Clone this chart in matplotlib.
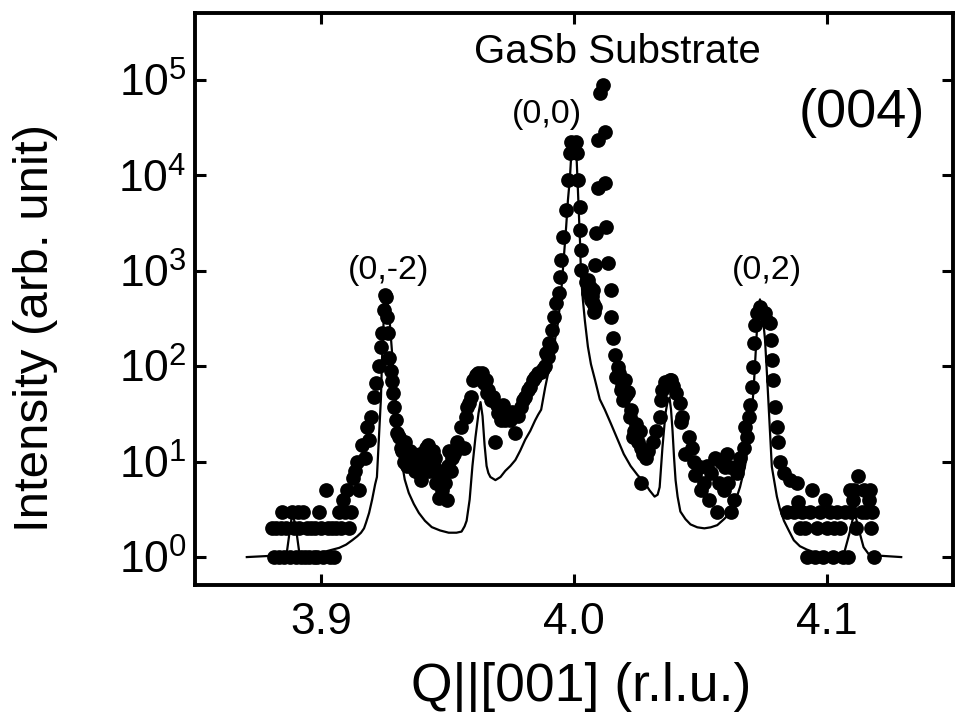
import matplotlib
matplotlib.use("Agg")
import matplotlib.pyplot as plt
from matplotlib.ticker import FixedLocator, NullLocator, LogLocator

plt.rcParams['font.family'] = ['Liberation Sans', 'DejaVu Sans']
plt.rcParams['mathtext.fontset'] = 'custom'
plt.rcParams['mathtext.rm'] = 'Liberation Sans'

# measured intensity (dots)
Q_meas = [3.8803, 3.8811, 3.8819, 3.8831, 3.8839, 3.8846, 3.8854, 3.8862, 3.8874, 3.8882,
          3.8890, 3.8898, 3.8906, 3.8913, 3.8921, 3.8929, 3.8937, 3.8945, 3.8953, 3.8961,
          3.8969, 3.8976, 3.8984, 3.8992, 3.9000, 3.9008, 3.9020, 3.9028, 3.9035, 3.9043,
          3.9051, 3.9059, 3.9071, 3.9079, 3.9087, 3.9094, 3.9102, 3.9110, 3.9118, 3.9126,
          3.9134, 3.9142, 3.9150, 3.9161, 3.9173, 3.9181, 3.9189, 3.9197, 3.9209, 3.9217,
          3.9228, 3.9236, 3.9240, 3.9248, 3.9252, 3.9256, 3.9260, 3.9264, 3.9268, 3.9276,
          3.9280, 3.9283, 3.9287, 3.9295, 3.9299, 3.9307, 3.9315, 3.9319, 3.9327, 3.9331,
          3.9335, 3.9346, 3.9350, 3.9358, 3.9370, 3.9378, 3.9386, 3.9390, 3.9394, 3.9406,
          3.9413, 3.9421, 3.9425, 3.9437, 3.9441, 3.9445, 3.9453, 3.9465, 3.9476, 3.9484,
          3.9496, 3.9504, 3.9512, 3.9524, 3.9535, 3.9551, 3.9563, 3.9571, 3.9575, 3.9583,
          3.9591, 3.9602, 3.9614, 3.9622, 3.9634, 3.9642, 3.9650, 3.9654, 3.9661, 3.9673,
          3.9681, 3.9689, 3.9697, 3.9701, 3.9713, 3.9720, 3.9728, 3.9740, 3.9748, 3.9756,
          3.9768, 3.9780, 3.9791, 3.9799, 3.9807, 3.9819, 3.9827, 3.9839, 3.9846, 3.9858,
          3.9870, 3.9878, 3.9886, 3.9890, 3.9898, 3.9902, 3.9909, 3.9913, 3.9921, 3.9929,
          3.9941, 3.9945, 3.9949, 3.9957, 3.9969, 3.9976, 3.9984, 3.9988,
          4.0008, 4.0012, 4.0016, 4.0024, 4.0024, 4.0028, 4.0028, 4.0047, 4.0055, 4.0055,
          4.0067, 4.0075, 4.0075, 4.0083, 4.0083, 4.0087, 4.0094, 4.0094, 4.0102, 4.0114,
          4.0122, 4.0122, 4.0126, 4.0134, 4.0146, 4.0146, 4.0154, 4.0161, 4.0165, 4.0173,
          4.0185, 4.0193, 4.0201, 4.0213, 4.0220, 4.0224, 4.0232, 4.0244, 4.0260, 4.0264,
          4.0264, 4.0283, 4.0291, 4.0311, 4.0323, 4.0339, 4.0343, 4.0350, 4.0362, 4.0378,
          4.0382, 4.0390, 4.0402, 4.0421, 4.0429, 4.0425, 4.0441, 4.0457, 4.0476, 4.0480,
          4.0500, 4.0504, 4.0535, 4.0541, 4.0559, 4.0567, 4.0594, 4.0598, 4.0606, 4.0618,
          4.0622, 4.0634, 4.0646, 4.0657, 4.0673, 4.0677, 4.0685, 4.0693, 4.0697, 4.0705,
          4.0709, 4.0713, 4.0717, 4.0724, 4.0736, 4.0740, 4.0756, 4.0764, 4.0776, 4.0779,
          4.0783, 4.0787, 4.0795, 4.0803, 4.0807, 4.0815, 4.0831, 4.0843, 4.0854, 4.0870,
          4.0882, 4.0886, 4.0894, 4.0902, 4.0913, 4.0921, 4.0933, 4.0941, 4.0953, 4.0961,
          4.0972, 4.0984, 4.0992, 4.1000, 4.1012, 4.1024, 4.1031, 4.1039, 4.1051, 4.1063,
          4.1071, 4.1083, 4.1091, 4.1098, 4.1106, 4.1110, 4.1118, 4.1126, 4.1138, 4.1146,
          4.1157, 4.1169, 4.1173, 4.1177, 4.1181, 4.1189,
          3.9339, 3.9362, 3.9398, 3.9417, 3.9429, 3.9449, 3.9461, 3.9488, 3.9500, 3.9516,
          3.9543, 4.0177, 4.0189, 4.0205, 4.0236, 4.0252, 4.0272, 4.0468, 4.0516, 4.0528,
          4.0575, 4.0583, 4.0610, 4.0650, 4.0063, 4.0071, 4.0079]
I_meas = [2, 1, 2, 1, 2, 3, 1, 2, 1, 3,
          2, 1, 3, 2, 1, 3, 1, 2, 1, 2,
          1, 2, 1, 3, 2, 1, 5, 2, 1, 2,
          1, 2, 3, 2, 4, 3, 5, 2, 3, 6.7,
          8, 10, 5, 15, 11, 23, 17, 29, 47, 66,
          100, 160, 222, 390, 560, 530, 330, 220, 122, 90,
          70, 52, 37, 27, 20, 18, 14, 13, 10, 16,
          12, 11, 13, 9, 8, 10, 7.6, 12, 6.4, 9,
          14, 15, 8, 11, 13, 9, 6, 4.2, 5, 8,
          4, 13, 8, 12, 16, 23, 14, 29, 37, 41,
          47, 72, 80, 85, 85, 66, 72, 52, 56, 44,
          47, 16, 39, 32, 27, 39, 27, 30, 27, 33,
          20, 30, 37, 44, 47, 56, 60, 72, 77, 85,
          87, 93, 100, 137, 125, 175, 160, 240, 330, 460,
          585, 860, 1290, 2250, 4370, 8900, 17000, 22400,
          22400, 17000, 8900, 4700, 2700, 1650, 1014, 760, 585, 808,
          492, 458, 630, 417, 1150, 2490, 7350, 23500, 73000, 88000,
          28500, 8300, 2880, 1200, 630, 328, 197, 131, 77, 98,
          56, 44, 72, 54, 29, 35, 18, 25, 21, 14,
          6, 11, 13, 16, 21, 29, 44, 56, 68, 72,
          72, 62, 52, 41, 29, 26, 12, 18, 10, 7.2,
          8.8, 5, 4, 7.6, 11, 3, 5, 8.8, 12, 8.8,
          3, 4, 7.6, 11, 14, 23, 18, 29, 39, 60,
          98, 175, 270, 361, 420, 370, 360, 300, 280, 190,
          115, 72, 37, 23, 16, 10, 7.6, 3, 6.4, 3,
          6, 3.8, 2, 3, 2, 1, 3, 5, 1, 2,
          3, 1, 4, 2, 3, 1, 2, 3, 2, 1,
          3, 1, 5, 3, 4, 5, 2, 7, 3, 5,
          3, 4, 5, 2, 3, 1,
          9, 12, 11, 10, 13, 11, 8, 6, 9, 11,
          14, 85, 62, 50, 21, 16, 12, 14, 6, 9,
          6, 10, 6, 9, 680, 540, 370]

# simulated curve (solid line)
Q_fit = [3.8705, 3.8862, 3.8874, 3.8886, 3.8902, 3.8913, 3.8992, 3.9071, 3.9098, 3.9122,
         3.9142, 3.9157, 3.9169, 3.9177, 3.9189, 3.9201, 3.9213, 3.9220, 3.9228, 3.9236,
         3.9240, 3.9248, 3.9252, 3.9256, 3.9260, 3.9268, 3.9280, 3.9295, 3.9307, 3.9319,
         3.9330, 3.9346, 3.9366, 3.9386, 3.9410, 3.9437, 3.9470, 3.9504, 3.9535, 3.9555,
         3.9567, 3.9575, 3.9587, 3.9598, 3.9610, 3.9622, 3.9630, 3.9638, 3.9646, 3.9654,
         3.9661, 3.9669, 3.9689, 3.9709, 3.9728, 3.9748, 3.9768, 3.9787, 3.9807, 3.9827,
         3.9846, 3.9858, 3.9870, 3.9886, 3.9898, 3.9906, 3.9917, 3.9925, 3.9937, 3.9949,
         3.9957, 3.9969, 3.9976, 3.9984, 3.9990, 3.9996, 4.0002, 4.0008, 4.0012, 4.0016,
         4.0020, 4.0024, 4.0028, 4.0035, 4.0043, 4.0055, 4.0067, 4.0083, 4.0102, 4.0122,
         4.0146, 4.0173, 4.0197, 4.0224, 4.0252, 4.0280, 4.0299, 4.0319, 4.0331, 4.0339,
         4.0350, 4.0362, 4.0370, 4.0378, 4.0384, 4.0390, 4.0396, 4.0402, 4.0410, 4.0421,
         4.0441, 4.0461, 4.0488, 4.0516, 4.0541, 4.0567, 4.0594, 4.0618, 4.0638, 4.0657,
         4.0677, 4.0693, 4.0705, 4.0713, 4.0724, 4.0730, 4.0736, 4.0744, 4.0756, 4.0764,
         4.0772, 4.0783, 4.0803, 4.0815, 4.0831, 4.0850, 4.0870, 4.0894, 4.0921, 4.0960,
         4.1012, 4.1050, 4.1071, 4.1091, 4.1110, 4.1126, 4.1146, 4.1169, 4.1295]
I_fit = [1.0, 1.05, 1.8, 3.0, 1.8, 1.1, 1.1, 1.25, 1.35, 1.5,
         1.65, 1.8, 2.0, 2.3, 2.9, 4.0, 5.8, 6.9, 18, 47,
         116, 361, 520, 585, 520, 361, 137, 41, 18, 9.7,
         6.5, 4.7, 3.6, 2.9, 2.4, 2.06, 1.9, 1.8, 1.8, 1.85,
         2.1, 2.4, 4, 9, 18, 32, 42, 30, 15, 9,
         7.6, 6.9, 6.4, 6.9, 8, 9, 10.4, 13, 17, 21,
         27, 31, 35, 60, 85, 108, 150, 190, 290, 580,
         1100, 2900, 5500, 9500, 18000, 25000, 25000, 21000, 12000, 6500,
         3500, 1950, 860, 500, 300, 160, 105, 72, 45, 35,
         25, 17, 12, 9, 7.2, 6, 5, 4.3, 4.5, 5.4,
         14, 32, 42, 47, 35, 21, 11, 6.4, 4.3, 3,
         2.5, 2.2, 2.05, 2, 2.05, 2.16, 2.5, 2.9, 3.8, 5.4,
         9, 17, 35, 72, 240, 380, 500, 400, 190, 80,
         32, 8.8, 4.3, 3.2, 2.4, 1.9, 1.5, 1.3, 1.2, 1.1,
         1.05, 1.05, 1.15, 1.8, 3.0, 2.0, 1.27, 1.05, 1.0]

x_ticks = [3.9, 4.0, 4.1]
x_ticklabels = ['3.9', '4.0', '4.1']

fig = plt.figure(figsize=(9.55, 7.24), dpi=100)
ax = fig.add_axes([0.2042, 0.192, 0.7937, 0.790])

ax.plot(Q_meas, I_meas, 'o', color='black', ms=10.6, mew=0)
ax.plot(Q_fit, I_fit, '-', color='black', lw=1.6)

ax.set_yscale('log')
ax.set_xlim(3.85, 4.15)
ax.set_ylim(0.51, 5e5)

ax.xaxis.set_major_locator(FixedLocator(x_ticks))
ax.set_xticklabels(x_ticklabels)
ax.xaxis.set_minor_locator(NullLocator())
ax.yaxis.set_major_locator(LogLocator(base=10, numticks=10))
ax.yaxis.set_minor_locator(NullLocator())

ax.tick_params(which='major', direction='in', length=8, width=2.2,
               top=True, right=True, labelsize=32)
ax.tick_params(axis='x', pad=12)
ax.tick_params(axis='y', pad=6)
for s in ax.spines.values():
    s.set_linewidth(2.8)

ax.set_xlabel('Q||[001] (r.l.u.)', fontsize=38.5)
ax.xaxis.set_label_coords(0.509, -0.178)
ax.xaxis.label.set_va('center')
ax.set_ylabel('Intensity (arb. unit)', fontsize=35.5)
ax.yaxis.set_label_coords(-0.211, 0.449)
ax.yaxis.label.set_va('center')

ax.text(0.557, 0.932, 'GaSb Substrate', transform=ax.transAxes,
        ha='center', va='center', fontsize=29)
ax.text(0.880, 0.825, '(004)', transform=ax.transAxes,
        ha='center', va='center', fontsize=39)
ax.text(0.464, 0.823, '(0,0)', transform=ax.transAxes,
        ha='center', va='center', fontsize=24.5)
ax.text(0.256, 0.549, '(0,-2)', transform=ax.transAxes,
        ha='center', va='center', fontsize=24.5)
ax.text(0.755, 0.549, '(0,2)', transform=ax.transAxes,
        ha='center', va='center', fontsize=24.5)

fig.savefig('out.png', dpi=100)
